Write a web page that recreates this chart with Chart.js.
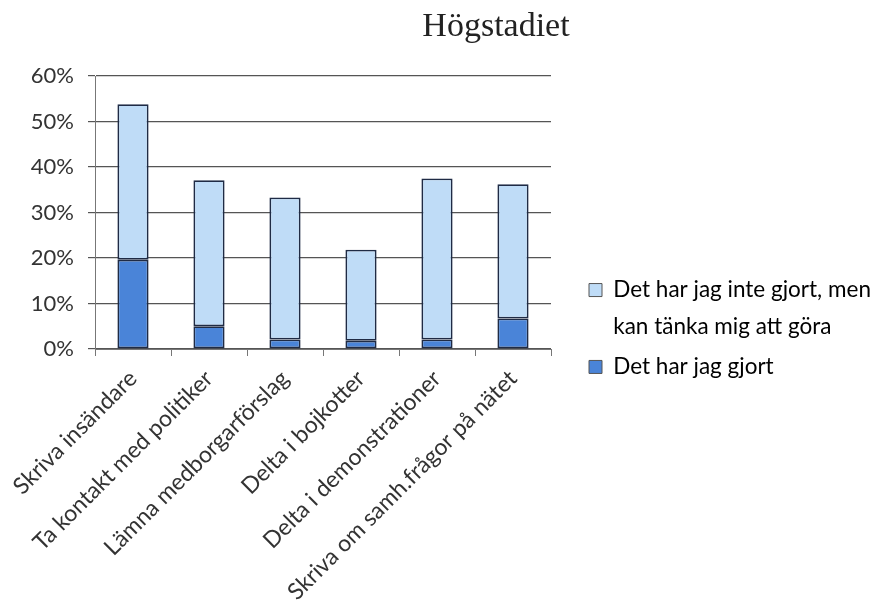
<!DOCTYPE html>
<html>
<head>
<meta charset="utf-8">
<script src="https://cdn.jsdelivr.net/npm/chart.js@4.4.1/dist/chart.umd.min.js"></script>
<style>
  html, body { margin: 0; padding: 0; background: #fff; }
  #wrap { position: relative; width: 883px; height: 609px; }
  #title {
    position: absolute; left: 496px; top: 8px; transform: translateX(-50%);
    font-family: "Liberation Serif", serif; font-size: 34px; line-height: 1; color: #222;
    white-space: nowrap;
  }
</style>
</head>
<body>
<div id="wrap">
  <div id="title">Högstadiet</div>
  <canvas id="myChart" width="883" height="609"></canvas>
</div>
<script>
// categories and values (percent)
var categories = [
    'Skriva insändare',
    'Ta kontakt med politiker',
    'Lämna medborgarförslag',
    'Delta i bojkotter',
    'Delta i demonstrationer',
    'Skriva om samh.frågor på nätet'
];
var doneValues = [19.6, 5.0, 2.1, 1.8, 2.1, 6.7];
var couldDoValues = [34.2, 32.1, 31.2, 20.0, 35.4, 29.5];
var yTicks = [0, 10, 20, 30, 40, 50, 60];

var doneLabel = 'Det har jag gjort';
var couldDoLabel = ['Det har jag inte gjort, men', 'kan tänka mig att göra'];

var darkBlue = '#4a84d8';
var lightBlue = '#bfdcf7';
var barBorder = '#1f2b45';
var textColor = '#333333';
var font = 'Lato, "Open Sans", sans-serif';

// the legend does not measure the two-line label well, so its width is fixed here,
// and it is nudged up a little after layout
var legendPlace = {
    id: 'legendPlace',
    beforeLayout: function(chart) {
        var legend = chart.legend;
        if (legend && !legend._fixedWidth) {
            var fit = legend.fit;
            legend.fit = function() {
                fit.call(this);
                this.width = 298;
            };
            legend._fixedWidth = true;
        }
    },
    afterLayout: function(chart) {
        if (chart.legend) {
            chart.legend.bottom -= 28;
        }
    }
};

var ctx = document.getElementById('myChart').getContext('2d');

var myChart = new Chart(ctx, {
    type: 'bar',
    data: {
        labels: categories,
        datasets: [{
            label: doneLabel,
            data: doneValues,
            backgroundColor: darkBlue,
            borderColor: barBorder,
            borderWidth: 1.8,
            borderSkipped: false,
            barPercentage: 0.41,
            categoryPercentage: 1
        }, {
            label: couldDoLabel.join(' '),
            data: couldDoValues,
            backgroundColor: lightBlue,
            borderColor: barBorder,
            borderWidth: 1.8,
            borderSkipped: false,
            barPercentage: 0.41,
            categoryPercentage: 1
        }]
    },
    plugins: [legendPlace],
    options: {
        responsive: false,
        animation: false,
        layout: { padding: { top: 76, left: 0, right: 0, bottom: 0 } },
        plugins: {
            title: { display: false },
            tooltip: { enabled: false },
            legend: {
                position: 'right',
                align: 'center',
                labels: {
                    color: textColor,
                    font: { family: font, size: 22.5, lineHeight: 1.62 },
                    boxWidth: 13,
                    boxHeight: 13,
                    padding: 4,
                    generateLabels: function(chart) {
                        // top series first, two-line text for the long label
                        var ds = chart.data.datasets;
                        return [{
                            text: couldDoLabel,
                            fillStyle: ds[1].backgroundColor,
                            strokeStyle: '#555',
                            lineWidth: 1,
                            datasetIndex: 1
                        }, {
                            text: doneLabel,
                            fillStyle: ds[0].backgroundColor,
                            strokeStyle: '#555',
                            lineWidth: 1,
                            datasetIndex: 0
                        }];
                    }
                }
            }
        },
        scales: {
            x: {
                stacked: true,
                offset: true,
                afterFit: function(s) { s.height = 260; },
                grid: {
                    offset: true,
                    drawOnChartArea: false,
                    tickLength: 7,
                    color: '#777'
                },
                border: { color: '#777', width: 1 },
                ticks: {
                    minRotation: 45,
                    maxRotation: 45,
                    autoSkip: false,
                    padding: 9,
                    color: textColor,
                    font: { family: font, size: 23 }
                }
            },
            y: {
                stacked: true,
                min: 0,
                max: 60,
                afterFit: function(s) { s.width = 95; },
                afterBuildTicks: function(s) {
                    s.ticks = yTicks.map(function(v) { return { value: v }; });
                },
                grid: {
                    color: '#555',
                    lineWidth: 1.2,
                    tickLength: 7
                },
                border: { color: '#777', width: 1 },
                ticks: {
                    padding: 14,
                    color: textColor,
                    font: { family: font, size: 22 },
                    callback: function(v) { return v + '%'; }
                }
            },
            gap: {
                // empty axis that only keeps space between plot and legend
                position: 'right',
                display: true,
                afterFit: function(s) { s.width = 34; },
                grid: { display: false },
                border: { display: false },
                ticks: { display: false }
            }
        }
    }
});
</script>
</body>
</html>
